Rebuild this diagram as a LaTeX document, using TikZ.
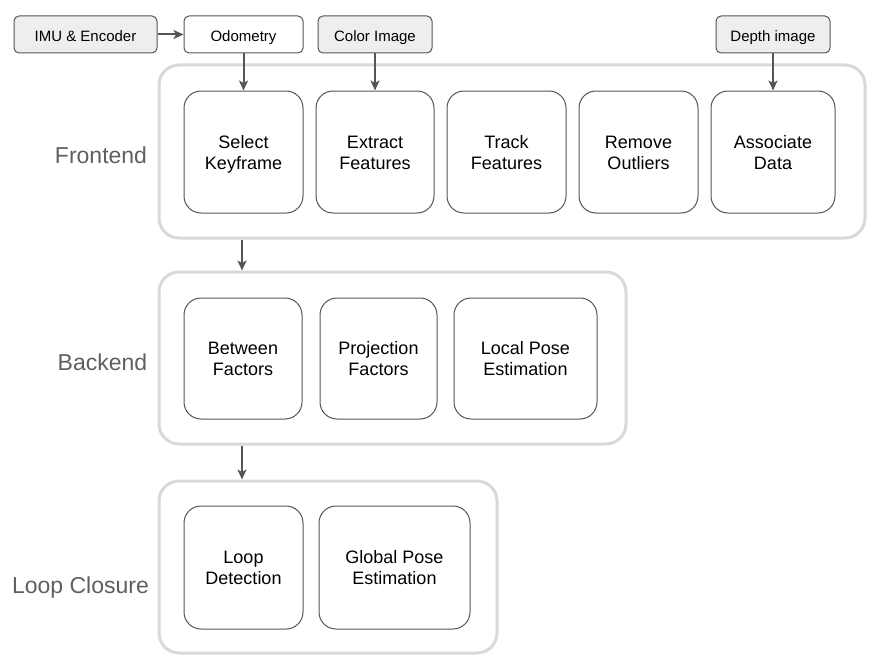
\documentclass[tikz,border=0pt]{standalone}
\usepackage{fontspec}
\setmainfont{Liberation Sans}
\usetikzlibrary{arrows.meta}
\definecolor{linegray}{HTML}{555555}
\definecolor{contgray}{HTML}{D9D9D9}
\definecolor{fillgray}{HTML}{EEEEEE}
\definecolor{labgray}{HTML}{5F5F5F}
\tikzset{
  container/.style={draw=contgray, line width=3pt, rounded corners=20pt, fill=white},
  stage/.style={draw=linegray, line width=1pt, rounded corners=17pt, fill=white, align=center,
    font=\fontsize{18}{21}\selectfont, inner sep=0pt, text height=34.6pt, text depth=0pt},
  inputbox/.style={draw=linegray, line width=1pt, rounded corners=5pt, fill=fillgray, align=center,
    font=\fontsize{15}{18}\selectfont, inner sep=0pt, minimum height=37pt,
    text height=17.6pt, text depth=4pt},
  plainbox/.style={inputbox, fill=white},
  grouplabel/.style={text=labgray, font=\fontsize{23}{26}\selectfont, inner sep=0pt, anchor=base},
  conn/.style={draw=linegray, line width=2pt, -{Stealth[length=10pt,width=9pt,inset=2.5pt]}}
}
\begin{document}
\begin{tikzpicture}[x=1pt,y=-1pt]
\useasboundingbox (0,0) rectangle (881,669);
% containers
\node[container, minimum width=706pt, minimum height=173pt] (front) at (512,151.5) {};
\node[container, minimum width=467pt, minimum height=172pt] (back) at (392.5,358) {};
\node[container, minimum width=338pt, minimum height=172pt] (loop) at (328,567) {};
% group labels
\node[grouplabel] (lfront) at (101,163.3) {Frontend};
\node[grouplabel] (lback) at (102.5,370) {Backend};
\node[grouplabel] (lloop) at (80.5,593.5) {Loop Closure};
% inputs
\node[inputbox, minimum width=143pt] (imu) at (85.5,34.5) {IMU \& Encoder};
\node[plainbox, minimum width=119pt] (odo) at (243.5,34.5) {Odometry};
\node[inputbox, minimum width=114pt] (col) at (375,34.5) {Color Image};
\node[inputbox, minimum width=114pt] (dep) at (773,34.5) {Depth image};
% frontend stages
\node[stage, minimum width=119pt, minimum height=122pt] (sk) at (243.5,152) {Select\\Keyframe};
\node[stage, minimum width=118pt, minimum height=122pt] (ef) at (375,152) {Extract\\Features};
\node[stage, minimum width=119pt, minimum height=122pt] (tf) at (506.5,152) {Track\\Features};
\node[stage, minimum width=119pt, minimum height=122pt] (ro) at (638.5,152) {Remove\\Outliers};
\node[stage, minimum width=124pt, minimum height=122pt] (ad) at (773,152) {Associate\\Data};
% backend stages
\node[stage, minimum width=118pt, minimum height=121pt] (bf) at (243,358.5) {Between\\Factors};
\node[stage, minimum width=117pt, minimum height=121pt] (pf) at (378.5,358.5) {Projection\\Factors};
\node[stage, minimum width=143pt, minimum height=121pt] (lp) at (525.5,358.5) {Local Pose\\Estimation};
% loop closure stages
\node[stage, minimum width=119pt, minimum height=123pt] (ld) at (243.5,567.5) {Loop\\Detection};
\node[stage, minimum width=151pt, minimum height=123pt] (gp) at (394.5,567.5) {Global Pose\\Estimation};
% connectors
\draw[conn] (imu.east) -- (odo.west);
\draw[conn] (odo.south) -- (sk.north);
\draw[conn] (col.south) -- (ef.north);
\draw[conn] (dep.south) -- (ad.north);
\draw[conn] ([xshift=-1.5pt]sk.south |- front.south) -- ([xshift=-1.5pt]sk.south |- back.north);
\draw[conn] ([xshift=-1.5pt]sk.south |- back.south) -- ([xshift=-1.5pt]sk.south |- loop.north);
\end{tikzpicture}
\end{document}
